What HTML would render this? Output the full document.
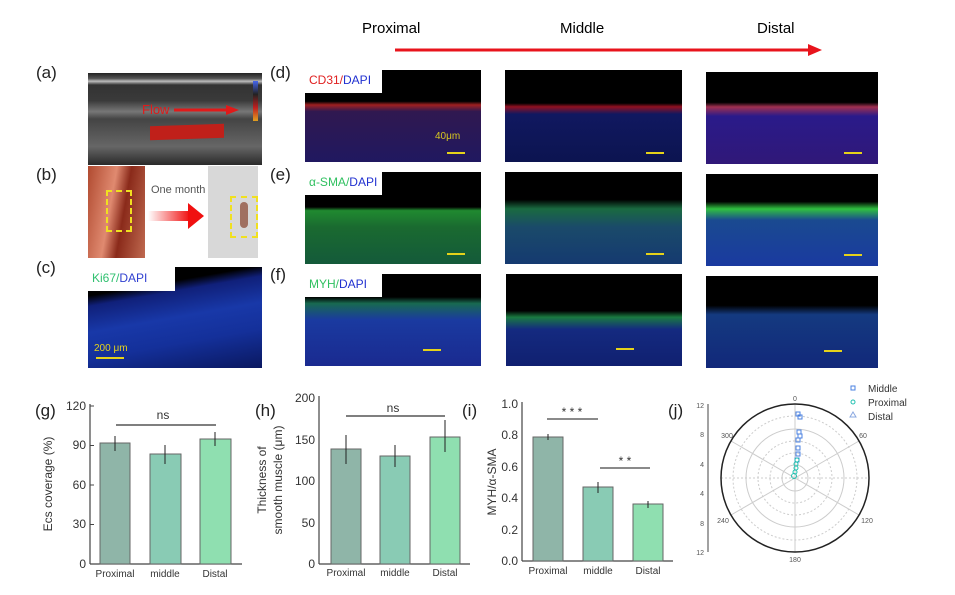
<!DOCTYPE html>
<html><head><meta charset="utf-8"><style>
body{margin:0;background:#fff;width:955px;height:595px;overflow:hidden;position:relative;font-family:"Liberation Sans",sans-serif}
.a{position:absolute}
.lbl{position:absolute;font-size:17px;color:#222}
.img{position:absolute;background:#000;overflow:hidden}
.tag{position:absolute;left:0;top:0;background:#fff;font-size:12px;padding:3px 4px 4px 4px}
.sb{position:absolute;height:2px;width:18px;background:#e5d21a}
</style></head><body>
<div class="a" style="left:362px;top:20px;font-size:15px">Proximal</div>
<div class="a" style="left:560px;top:20px;font-size:15px">Middle</div>
<div class="a" style="left:757px;top:20px;font-size:15px">Distal</div>
<svg class="a" style="left:390px;top:42px" width="440" height="16"><line x1="5" y1="8" x2="420" y2="8" stroke="#e8141c" stroke-width="3"/><polygon points="418,2 432,8 418,14" fill="#e8141c"/></svg>

<div class="lbl" style="left:36px;top:63px">(a)</div>
<div class="lbl" style="left:36px;top:165px">(b)</div>
<div class="lbl" style="left:36px;top:258px">(c)</div>
<div class="lbl" style="left:270px;top:63px">(d)</div>
<div class="lbl" style="left:270px;top:165px">(e)</div>
<div class="lbl" style="left:270px;top:265px">(f)</div>

<!-- a -->
<div class="img" style="left:88px;top:73px;width:174px;height:92px;background:linear-gradient(#222 0,#555 6%,#bbb 9%,#333 13%,#3a3a3a 30%,#777 42%,#444 50%,#555 65%,#666 80%,#2a2a2a 100%)">
<div class="a" style="left:62px;top:52px;width:74px;height:14px;background:#c0201a;transform:skewY(-2deg)"></div>
<div class="a" style="left:54px;top:29px;color:#e01a1a;font-size:13px">Flow</div>
<svg class="a" style="left:86px;top:30px" width="70" height="14"><line x1="0" y1="7" x2="55" y2="7" stroke="#e01a1a" stroke-width="3"/><polygon points="52,2 65,7 52,12" fill="#e01a1a"/></svg>
<div class="a" style="left:165px;top:8px;width:5px;height:40px;background:linear-gradient(#4466ee,#222,#c02020,#e0a020)"></div>
</div>
<!-- b -->
<div class="img" style="left:88px;top:166px;width:57px;height:92px;background:linear-gradient(100deg,#b04a30,#e08a70 40%,#8a2a1a 60%,#c06a50)">
<div class="a" style="left:18px;top:24px;width:22px;height:38px;border:2px dashed #f0e020"></div></div>
<div class="a" style="left:151px;top:184px;font-size:11px;color:#555">One month</div>
<svg class="a" style="left:148px;top:203px" width="60" height="26"><defs><linearGradient id="g1"><stop offset="0" stop-color="#fff"/><stop offset="1" stop-color="#f01010"/></linearGradient></defs><rect x="0" y="8" width="42" height="10" fill="url(#g1)"/><polygon points="40,0 56,13 40,26" fill="#f01010"/></svg>
<div class="img" style="left:208px;top:166px;width:50px;height:92px;background:#d8d8d8">
<div class="a" style="left:22px;top:30px;width:24px;height:38px;border:2px dashed #f0e020"></div>
<div class="a" style="left:32px;top:36px;width:8px;height:26px;border-radius:4px;background:#a07060"></div></div>
<!-- c -->
<div class="img" style="left:88px;top:267px;width:174px;height:101px;background:linear-gradient(170deg,#000 0,#000 22%,#10207a 30%,#1838a8 50%,#14309a 70%,#0a1860 100%)">
<div class="tag" style="width:79px;height:16px;padding:4px"><span style="color:#30c070">Ki67/</span><span style="color:#3040d0">DAPI</span></div>
<div class="sb" style="left:8px;top:90px;width:28px"></div>
<div class="a" style="left:6px;top:76px;font-size:10px;color:#e5d21a">200 μm</div></div>

<!-- microscopy grid -->
<div class="img" style="left:305px;top:70px;width:176px;height:92px;background:linear-gradient(#000 0,#000 34%,#a02020 38%,#301850 45%,#201860 100%)"><div class="tag" style="width:69px;height:16px"><span style="color:#e02020">CD31/</span><span style="color:#2030d0">DAPI</span></div><div class="a" style="left:130px;top:61px;font-size:10px;color:#d8c820">40μm</div><div class="sb" style="left:142px;top:82px"></div></div>
<div class="img" style="left:505px;top:70px;width:177px;height:92px;background:linear-gradient(#000 0,#000 36%,#901020 40%,#101860 48%,#0c1450 100%)"><div class="sb" style="left:141px;top:82px"></div></div>
<div class="img" style="left:706px;top:72px;width:172px;height:92px;background:linear-gradient(#000 0,#000 33%,#a03050 38%,#2a1a8a 48%,#301878 100%)"><div class="sb" style="left:138px;top:80px"></div></div>

<div class="img" style="left:305px;top:172px;width:176px;height:92px;background:linear-gradient(#000 0,#000 38%,#208a30 42%,#1a6a30 60%,#145a3a 100%)"><div class="tag" style="width:69px;height:16px"><span style="color:#30c060">α-SMA/</span><span style="color:#2030d0">DAPI</span></div><div class="sb" style="left:142px;top:81px"></div></div>
<div class="img" style="left:505px;top:172px;width:177px;height:92px;background:linear-gradient(#000 0,#000 30%,#1a6a40 40%,#1a4a6a 60%,#153a70 100%)"><div class="sb" style="left:141px;top:81px"></div></div>
<div class="img" style="left:706px;top:174px;width:172px;height:92px;background:linear-gradient(#000 0,#000 30%,#30c040 38%,#1a4a90 50%,#1a3aa0 100%)"><div class="sb" style="left:138px;top:80px"></div></div>

<div class="img" style="left:305px;top:274px;width:176px;height:92px;background:linear-gradient(#000 0,#000 25%,#186a50 32%,#1a3aa0 50%,#1a2a90 100%)"><div class="tag" style="width:69px;height:16px"><span style="color:#30c060">MYH/</span><span style="color:#2030d0">DAPI</span></div><div class="sb" style="left:118px;top:75px"></div></div>
<div class="img" style="left:506px;top:274px;width:176px;height:92px;background:linear-gradient(#000 0,#000 40%,#1a7a40 47%,#142a80 60%,#102070 100%)"><div class="sb" style="left:110px;top:74px"></div></div>
<div class="img" style="left:706px;top:276px;width:172px;height:92px;background:linear-gradient(#000 0,#000 32%,#143a80 42%,#12287a 100%)"><div class="sb" style="left:118px;top:74px"></div></div>

<!-- charts -->
<svg class="a" style="left:0;top:380px" width="955" height="215" font-family="Liberation Sans" font-size="11" fill="#333">
<text x="35" y="36" font-size="17" fill="#222">(g)</text>
<text x="255" y="36" font-size="17" fill="#222">(h)</text>
<text x="462" y="36" font-size="17" fill="#222">(i)</text>
<text x="668" y="36" font-size="17" fill="#222">(j)</text>
<!-- g: y0=184 top=26 -->
<g stroke="#444" stroke-width="1.2"><line x1="90" y1="24" x2="90" y2="184"/><line x1="90" y1="184" x2="242" y2="184"/></g>
<g text-anchor="end" font-size="12"><text x="86" y="188">0</text><text x="86" y="148">30</text><text x="86" y="109">60</text><text x="86" y="69">90</text><text x="86" y="30">120</text></g>
<g stroke="#444"><line x1="90" y1="184" x2="94" y2="184"/><line x1="90" y1="144.5" x2="94" y2="144.5"/><line x1="90" y1="105" x2="94" y2="105"/><line x1="90" y1="65.5" x2="94" y2="65.5"/><line x1="90" y1="26" x2="94" y2="26"/></g>
<rect x="100" y="63" width="30" height="121" fill="#8fb5a8" stroke="#666"/>
<rect x="150" y="74" width="31" height="110" fill="#89cbb4" stroke="#666"/>
<rect x="200" y="59" width="31" height="125" fill="#8fdfb0" stroke="#666"/>
<g stroke="#222"><line x1="115" y1="56" x2="115" y2="71"/><line x1="165" y1="65" x2="165" y2="84"/><line x1="215" y1="52" x2="215" y2="66"/></g>
<line x1="116" y1="45" x2="216" y2="45" stroke="#555" stroke-width="1.5"/>
<text x="163" y="39" text-anchor="middle" font-size="12">ns</text>
<g text-anchor="middle" font-size="10"><text x="115" y="197">Proximal</text><text x="165" y="197">middle</text><text x="215" y="197">Distal</text></g>
<text transform="translate(52,104) rotate(-90)" text-anchor="middle" font-size="12">Ecs coverage (%)</text>
<!-- h: y0=184 top=18 -->
<g stroke="#444" stroke-width="1.2"><line x1="319" y1="16" x2="319" y2="184"/><line x1="319" y1="184" x2="470" y2="184"/></g>
<g text-anchor="end" font-size="12"><text x="315" y="188">0</text><text x="315" y="147">50</text><text x="315" y="105">100</text><text x="315" y="64">150</text><text x="315" y="22">200</text></g>
<rect x="331" y="69" width="30" height="115" fill="#8fb5a8" stroke="#666"/>
<rect x="380" y="76" width="30" height="108" fill="#89cbb4" stroke="#666"/>
<rect x="430" y="57" width="30" height="127" fill="#8fdfb0" stroke="#666"/>
<g stroke="#222"><line x1="346" y1="55" x2="346" y2="84"/><line x1="395" y1="65" x2="395" y2="87"/><line x1="445" y1="40" x2="445" y2="72"/></g>
<line x1="346" y1="36" x2="445" y2="36" stroke="#555" stroke-width="1.5"/>
<text x="393" y="32" text-anchor="middle" font-size="12">ns</text>
<g text-anchor="middle" font-size="10"><text x="346" y="196">Proximal</text><text x="395" y="196">middle</text><text x="445" y="196">Distal</text></g>
<text transform="translate(266,100) rotate(-90)" text-anchor="middle" font-size="12">Thickness of</text>
<text transform="translate(282,100) rotate(-90)" text-anchor="middle" font-size="12">smooth muscle (μm)</text>
<!-- i: y0=181 top=24 -->
<g stroke="#444" stroke-width="1.2"><line x1="522" y1="22" x2="522" y2="181"/><line x1="522" y1="181" x2="673" y2="181"/></g>
<g text-anchor="end" font-size="12"><text x="518" y="185">0.0</text><text x="518" y="154">0.2</text><text x="518" y="122">0.4</text><text x="518" y="91">0.6</text><text x="518" y="59">0.8</text><text x="518" y="28">1.0</text></g>
<rect x="533" y="57" width="30" height="124" fill="#8fb5a8" stroke="#666"/>
<rect x="583" y="107" width="30" height="74" fill="#89cbb4" stroke="#666"/>
<rect x="633" y="124" width="30" height="57" fill="#8fdfb0" stroke="#666"/>
<g stroke="#222"><line x1="548" y1="54" x2="548" y2="60"/><line x1="598" y1="102" x2="598" y2="113"/><line x1="648" y1="121" x2="648" y2="128"/></g>
<line x1="547" y1="39" x2="598" y2="39" stroke="#444" stroke-width="1.2"/>
<text x="572" y="36" text-anchor="middle" font-size="12">* * *</text>
<line x1="600" y1="88" x2="650" y2="88" stroke="#444" stroke-width="1.2"/>
<text x="625" y="85" text-anchor="middle" font-size="12">* *</text>
<g text-anchor="middle" font-size="10"><text x="548" y="194">Proximal</text><text x="598" y="194">middle</text><text x="648" y="194">Distal</text></g>
<text transform="translate(496,102) rotate(-90)" text-anchor="middle" font-size="12">MYH/α-SMA</text>
<!-- j -->
<g transform="translate(795,98)">
<g stroke="#ccc" fill="none"><circle r="49"/><circle r="25" stroke-dasharray="2,2"/><circle r="13"/><circle r="37" stroke-dasharray="2,2"/><circle r="62" stroke-dasharray="2,2"/>
<line x1="0" y1="-74" x2="0" y2="74"/><line x1="-64" y1="-37" x2="64" y2="37"/><line x1="64" y1="-37" x2="-64" y2="37"/><line x1="-74" y1="0" x2="74" y2="0" stroke-dasharray="2,2"/></g>
<circle r="74" fill="none" stroke="#222" stroke-width="1.5"/>
<g font-size="7" fill="#555" text-anchor="middle"><text x="0" y="-77">0</text><text x="68" y="-40">60</text><text x="72" y="45">120</text><text x="0" y="84">180</text><text x="-72" y="45">240</text><text x="-68" y="-40">300</text></g>
<g fill="none" stroke="#4a80e0" stroke-width="1"><rect x="1" y="-66" width="4" height="4"/><rect x="3" y="-63" width="4" height="4"/><rect x="2" y="-48" width="4" height="4"/><rect x="3" y="-44" width="4" height="4"/><rect x="1" y="-40" width="4" height="4"/><rect x="1" y="-32" width="4" height="4"/><rect x="1" y="-26" width="4" height="4"/><rect x="0" y="-20" width="4" height="4"/></g>
<g fill="none" stroke="#20c0b0"><circle cx="1" cy="-14" r="2"/><circle cx="1" cy="-10" r="2"/><circle cx="0" cy="-6" r="2"/><circle cx="-1" cy="-2" r="2.5"/><circle cx="2" cy="-18" r="2"/></g>
</g>
<g stroke="#444"><line x1="708" y1="24" x2="708" y2="172"/></g>
<g font-size="7" fill="#555" text-anchor="end"><text x="704" y="28">12</text><text x="704" y="57">8</text><text x="704" y="87">4</text><text x="704" y="116">4</text><text x="704" y="146">8</text><text x="704" y="175">12</text></g>
<g font-size="10"><rect x="851" y="6" width="4" height="4" fill="none" stroke="#4a80e0"/><text x="868" y="12">Middle</text>
<circle cx="853" cy="22" r="2" fill="none" stroke="#20c0b0"/><text x="868" y="26">Proximal</text>
<polygon points="853,32 856,37 850,37" fill="none" stroke="#8aa8e0"/><text x="868" y="40">Distal</text></g>
</svg>
</body></html>
